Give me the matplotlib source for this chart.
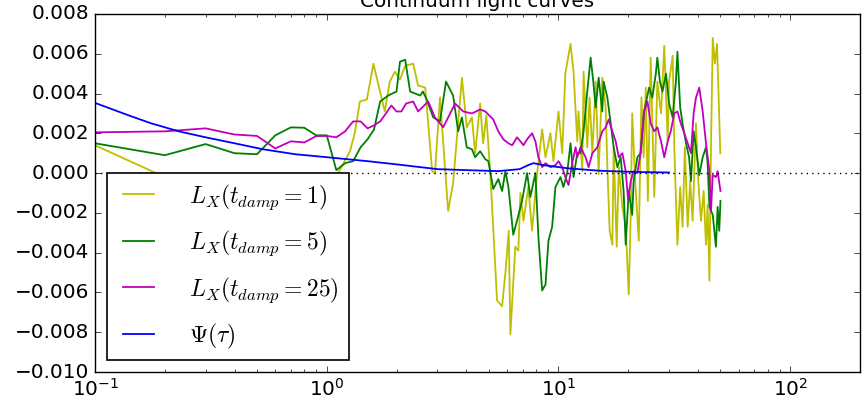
import numpy as np
import matplotlib
matplotlib.use("Agg")
import matplotlib.pyplot as plt

plt.style.use('classic')

# time lags
t_d1 = [0.1, 0.2, 0.3, 0.5, 0.7, 0.9, 1.0, 1.12, 1.26, 1.32, 1.39, 1.49, 1.59, 1.78, 1.87, 1.97,
        2.07, 2.18, 2.36, 2.48, 2.66, 2.85, 2.93, 3.08, 3.34, 3.51, 3.83, 4.02, 4.23, 4.37, 4.59,
        4.73, 4.88, 5.08, 5.43, 5.71, 5.9, 6.1, 6.2, 6.51, 6.71, 6.85, 7.06, 7.41, 7.69, 8.09,
        8.5, 8.79, 9.23, 9.51, 10.0, 10.38, 10.7, 11.27, 11.61, 12.05, 12.2, 12.67, 12.83, 13.31,
        13.62, 14.0, 14.47, 14.9, 15.45, 15.98, 16.25, 16.63, 17.08, 17.3, 17.83, 18.2, 18.87,
        19.5, 20.1, 20.5, 20.8, 21.5, 22.2, 22.8, 23.3, 23.8, 24.3, 24.8, 25.0, 25.9, 26.7, 27.7,
        28.6, 29.6, 30.0, 31.1, 31.6, 32.1, 32.6, 33.5, 34.3, 35.1, 36.1, 37.0, 37.9, 39.2, 40.1,
        41.2, 42.3, 43.3, 44.0, 44.8, 45.5, 46.3, 47.3, 48.3, 49.1, 49.9]
L_d1 = [0.0014, -0.0002, -0.0035, -0.0045, -0.004, -0.0035, -0.002, 0.0, 0.0011, 0.002, 0.0036,
        0.0037, 0.0055, 0.0031, 0.0046, 0.0051, 0.0047, 0.0054, 0.0055, 0.0044, 0.0043, 0.0001, 0.0,
        0.0038, -0.0019, -0.0005, 0.0048, 0.0023, 0.0028, 0.001, 0.0035, 0.0015, 0.0029, 0.0,
        -0.0064, -0.0067, -0.005, -0.0029, -0.0081, -0.0037, -0.0039, -0.001, -0.0024, -0.0007,
        -0.0029, 0.0, 0.0022, 0.0008, 0.002, 0.0006, 0.0031, 0.001, 0.005, 0.0065, 0.0051, 0.0016,
        0.0031, 0.0001, 0.0051, 0.0013, 0.0038, 0.001, 0.0046, -0.00005, 0.0048, 0.0033, 0.0003,
        -0.0029, -0.0036, 0.0013, -0.0037, 0.0003, -0.0017, -0.0027, -0.0061, -0.0021, 0.003,
        -0.0007, -0.0034, 0.0038, 0.0008, 0.0043, -0.0014, 0.0038, 0.0058, -0.0012, 0.0046, 0.003,
        0.0064, 0.0016, 0.0046, 0.0059, 0.0013, -0.0012, -0.0036, -0.0007, -0.0027, 0.0013,
        -0.0027, -0.0004, -0.0024, 0.0025, -0.0004, -0.0024, -0.0009, -0.0036, -0.0016, -0.0054,
        0.0013, 0.0068, 0.0055, 0.0065, 0.0038, 0.001]

t_d5 = [0.1, 0.2, 0.3, 0.4, 0.5, 0.6, 0.7, 0.8, 0.9, 1.0, 1.1, 1.2, 1.3, 1.4, 1.5, 1.6, 1.7, 1.84,
        2.0, 2.07, 2.18, 2.29, 2.53, 2.6, 2.7, 2.88, 3.08, 3.27, 3.51, 3.69, 3.83, 4.02, 4.23, 4.37,
        4.59, 4.83, 4.98, 5.16, 5.23, 5.5, 5.71, 5.9, 6.08, 6.38, 6.62, 6.96, 7.32, 7.56, 7.95,
        8.19, 8.5, 8.79, 9.05, 9.39, 9.7, 10.2, 10.5, 10.9, 11.27, 11.61, 12.05, 12.45, 12.83,
        13.31, 13.76, 14.13, 14.47, 14.9, 15.45, 15.66, 16.25, 16.8, 17.3, 17.95, 18.55, 19.1,
        19.5, 20.1, 20.8, 21.1, 21.9, 22.6, 23.4, 24.6, 25.4, 26.3, 26.7, 27.4, 28.1, 29.1, 30.0,
        31.1, 32.1, 32.6, 33.5, 34.3, 35.5, 36.6, 37.3, 38.3, 39.2, 40.5, 41.9, 43.3, 44.0, 44.8,
        46.3, 47.8, 48.6, 49.4, 50.0]
L_d5 = [0.0015, 0.0009, 0.00146, 0.001, 0.00095, 0.0019, 0.0023, 0.00228, 0.0019, 0.0019, 0.00015,
        0.0005, 0.0006, 0.0013, 0.0017, 0.0022, 0.0036, 0.0039, 0.0041, 0.0056, 0.0057, 0.0041,
        0.0039, 0.0041, 0.0037, 0.0028, 0.0026, 0.0046, 0.0039, 0.0021, 0.0028, 0.0013, 0.0012,
        0.0008, 0.0011, 0.0007, 0.0006, -0.0004, -0.0008, -0.0003, -0.0009, 0.0001, -0.0007,
        -0.0031, -0.0024, -0.0014, 0.0, -0.0012, 0.0, -0.0032, -0.0059, -0.0056, -0.0034, -0.0027,
        -0.0007, -0.0002, -0.0007, 0.0, 0.0015, -0.0002, 0.001, 0.001, 0.0021, 0.0041, 0.0058,
        0.0046, 0.0033, 0.0048, 0.0031, 0.0046, 0.0038, 0.0025, 0.0013, 0.0003, 0.0008, -0.0009,
        -0.0036, -0.0009, -0.0021, -0.0004, 0.0008, 0.001, 0.0031, 0.0043, 0.0038, 0.005, 0.0058,
        0.0046, 0.0041, 0.005, 0.0035, 0.0028, 0.0046, 0.0061, 0.0033, 0.0025, 0.0015, 0.0008,
        -0.0004, 0.0021, 0.0013, -0.0001, 0.0008, 0.0013, 0.0005, -0.0017, -0.0021, -0.0037,
        -0.0017, -0.0029, -0.0014]

t_d25 = [0.1, 0.2, 0.3, 0.4, 0.5, 0.6, 0.7, 0.8, 0.9, 1.0, 1.1, 1.2, 1.3, 1.4, 1.5, 1.6, 1.7, 1.8,
         1.9, 2.0, 2.1, 2.2, 2.36, 2.48, 2.74, 2.93, 3.18, 3.41, 3.58, 3.88, 4.23, 4.59, 4.83, 5.23,
         5.5, 5.78, 6.08, 6.31, 6.62, 6.85, 7.06, 7.32, 7.69, 7.95, 8.19, 8.5, 8.79, 9.23, 9.7,
         10.0, 10.38, 10.7, 11.05, 11.46, 11.85, 12.05, 12.45, 13.09, 13.49, 14.0, 14.71, 15.45,
         15.98, 16.47, 17.08, 17.65, 18.2, 18.87, 19.5, 19.95, 20.5, 21.1, 21.9, 22.6, 23.4, 24.2,
         25.0, 25.9, 26.7, 27.7, 28.6, 29.6, 30.5, 31.6, 32.6, 33.7, 34.9, 36.1, 37.3, 38.3, 39.2,
         40.5, 41.9, 43.3, 44.8, 45.5, 46.3, 47.8, 48.6, 50.0]
L_d25 = [0.00205, 0.0021, 0.00225, 0.00194, 0.00187, 0.00124, 0.0016, 0.00154, 0.00186, 0.00187,
         0.0018, 0.0021, 0.0026, 0.0026, 0.00225, 0.0024, 0.0026, 0.003, 0.0034, 0.0031, 0.0031,
         0.0035, 0.0036, 0.0031, 0.0036, 0.0028, 0.0023, 0.003, 0.0035, 0.0031, 0.003, 0.0032,
         0.0031, 0.0027, 0.0021, 0.0017, 0.0015, 0.0014, 0.0018, 0.0016, 0.0014, 0.0017, 0.002,
         0.0016, 0.0008, 0.0003, 0.0005, 0.0003, 0.0004, 0.0006, 0.0003, -0.0002, -0.0006, 0.0005,
         0.0013, 0.0008, 0.0013, 0.0008, 0.0003, 0.001, 0.0013, 0.0021, 0.0023, 0.0027, 0.0021,
         0.0016, 0.0008, 0.001, 0.0001, -0.0013, -0.0004, 0.0001, 0.0, 0.001, 0.0031, 0.0036,
         0.0025, 0.0021, 0.0023, 0.0016, 0.0008, 0.0016, 0.0021, 0.003, 0.0031, 0.0025, 0.002,
         0.0015, 0.001, 0.003, 0.0038, 0.0043, 0.0031, 0.0015, 0.0001, -0.0019, -0.0001, -0.0002,
         0.0001, -0.0009]

t_psi = [0.1, 0.14, 0.175, 0.23, 0.3, 0.4, 0.53, 0.73, 1.0, 1.5, 2.0, 3.0, 4.0, 5.5, 6.8, 7.4, 7.8,
         8.6, 11.0, 15.0, 21.0, 30.0]
psi = [0.00353, 0.0029, 0.0025, 0.0021, 0.0018, 0.0015, 0.0012, 0.00095, 0.0008, 0.0006, 0.00044,
       0.0002, 0.00015, 0.0001, 0.0002, 0.0004, 0.0005, 0.0004, 0.00024, 0.00012, 0.00006, 0.00003]

fig = plt.figure(figsize=(8.65, 4.0), dpi=100, facecolor='white')
ax = fig.add_axes([95/865, 28/400, 765/865, 358/400])

ax.plot(t_d1, L_d1, 'y-', lw=1.3, label=r'$L_X(t_{damp}=1)$')
ax.plot(t_d5, L_d5, 'g-', lw=1.3, label=r'$L_X(t_{damp}=5)$')
ax.plot(t_d25, L_d25, 'm-', lw=1.3, label=r'$L_X(t_{damp}=25)$')
ax.plot(t_psi, psi, 'b-', lw=1.3, label=r'$\Psi(\tau)$')
ax.axhline(0, color='k', ls=':')

ax.set_xscale('log')
ax.set_xlim(0.1, 200)
ax.set_ylim(-0.010, 0.008)
ax.tick_params(labelsize=14.4)
ax.set_title('Continuum light curves', fontsize=14.4)
leg = ax.legend(loc='lower left', fontsize=17, labelspacing=0.72, borderaxespad=0.5,
                handlelength=1.9, handletextpad=1.2)
leg.get_frame().set_linewidth(1.2)

fig.savefig('out.png', dpi=100, facecolor='white')
